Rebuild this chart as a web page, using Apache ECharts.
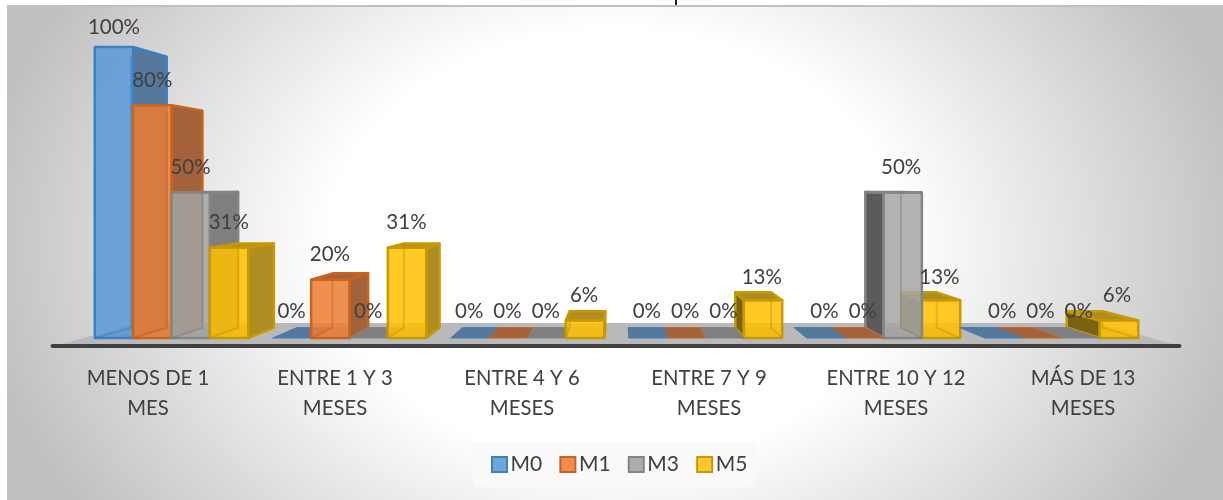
<!DOCTYPE html>
<html>
<head>
<meta charset="utf-8">
<style>
  html, body { margin: 0; padding: 0; width: 1223px; height: 500px; background: #fff; overflow: hidden; }
  #frame {
    position: absolute; left: 7px; top: 5px; width: 1216px; height: 493px;
    border-top: 2px solid #bfbfbf;
    background: radial-gradient(ellipse 640px 480px at 608px 238px, #fff 0%, #fff 45%, #c0c0c0 100%);
  }
  #titleTail { position: absolute; left: 675px; top: 0; width: 2px; height: 5px; background: #222; }
  #chart { position: absolute; left: 0; top: 0; width: 1223px; height: 500px; }
</style>
</head>
<body>
<div id="frame"></div>
<div id="titleTail"></div>
<div id="chart"></div>
<script src="https://cdn.jsdelivr.net/npm/echarts@6/dist/echarts.min.js"></script>
<script>
const categories = ['MENOS DE 1\nMES', 'ENTRE 1 Y 3\nMESES', 'ENTRE 4 Y 6\nMESES', 'ENTRE 7 Y 9\nMESES', 'ENTRE 10 Y 12\nMESES', 'MÁS DE 13\nMESES']
const seriesNames = ['M0', 'M1', 'M3', 'M5']
const m0 = [100, 0, 0, 0, 0, 0]
const m1 = [80, 20, 0, 0, 0, 0]
const m3 = [50, 0, 0, 0, 50, 0]
const m5 = [31, 31, 6, 13, 13, 6]
const seriesValues = [m0, m1, m3, m5]

const frontColors = ['rgba(91,155,213,0.88)', 'rgba(237,125,49,0.85)', 'rgba(165,165,165,0.85)', 'rgba(255,192,0,0.85)']
const borderColors = ['#3a80c2', '#c9641f', '#848484', '#c99a00']
const innerColors = ['rgba(46,117,182,0.4)', 'rgba(197,90,17,0.4)', 'rgba(120,120,120,0.4)', 'rgba(191,144,0,0.4)']
const sideColors = ['#55789c', '#a4623a', '#7f7f7f', '#ad8e22']
const farSideColors = ['#3f6488', '#8a5029', '#5a5a5a', '#7a6212']
const legendFill = ['#6fa6da', '#f08c4f', '#adadad', '#ffc72b']
const labelLift = { 100: 20, 13: 23 } // the rest sit 25px above their bar

const DEPTH = 0.069 // how far a bar goes back toward the vanishing point
const FLOOR_DEPTH = 0.133
const HORIZON = 52 // vanishing point height, in axis units

function vanishing (api, params) {
  return [params.coordSys.x + params.coordSys.width * 0.503, api.coord([0, HORIZON])[1]]
}

function back (p, vp, k) {
  return [p[0] + (vp[0] - p[0]) * k, p[1] + (vp[1] - p[1]) * k]
}

function poly (points, fill, stroke, z2, lineWidth) {
  return {
    type: 'polygon',
    z2: z2,
    shape: { points: points },
    style: { fill: fill, stroke: stroke, lineWidth: lineWidth || 2.5, lineJoin: 'round' }
  }
}

function renderBar (idx) {
  return function (params, api) {
    const cat = api.value(0)
    const val = api.value(1)
    const vp = vanishing(api, params)
    const base = api.coord([cat, 0])
    const top = api.coord([cat, val])
    const barW = api.size([1, 0])[0] / 4.64
    const x0 = base[0] + (idx - 2) * barW
    const x1 = x0 + barW
    const leftType = base[0] < vp[0]
    const z = (leftType ? idx : 3 - idx) * 10 + 10

    const fl = [x0, base[1]]
    const fr = [x1, base[1]]
    const tl = [x0, top[1]]
    const tr = [x1, top[1]]
    const bfl = back(fl, vp, DEPTH)
    const bfr = back(fr, vp, DEPTH)
    const btl = back(tl, vp, DEPTH)
    const btr = back(tr, vp, DEPTH)
    const children = []

    // bar floor, the only thing left of a 0% bar
    children.push(poly([fl, fr, bfr, bfl], val === 0 ? sideColors[idx] : 'rgba(0,0,0,0.12)', val === 0 ? borderColors[idx] : 'none', z, 1))

    if (val > 0) {
      if (x1 < vp[0]) {
        children.push(poly([tr, btr, bfr, fr], sideColors[idx], borderColors[idx], z + 1))
      } else if (x0 > vp[0]) {
        children.push(poly([tl, btl, bfl, fl], farSideColors[idx], borderColors[idx], z + 1))
      }
      if (top[1] > vp[1]) {
        children.push(poly([tl, tr, btr, btl], sideColors[idx], borderColors[idx], z + 2))
      }
      children.push(poly([tl, tr, fr, fl], frontColors[idx], borderColors[idx], z + 3))
      // inner edges seen through the glassy front face
      const inner = x1 < vp[0] ? [btl, bfl, fl] : [btr, bfr, fr]
      children.push({
        type: 'polyline',
        z2: z + 4,
        shape: { points: inner },
        style: { fill: 'none', stroke: innerColors[idx], lineWidth: 2 }
      })
    }

    const lift = labelLift[val] || 25
    const midX = (x0 + x1) / 2
    children.push({
      type: 'text',
      z2: 100,
      style: {
        x: midX - (midX - 114) * 0.002,
        y: (val === 0 ? base[1] - 27 : top[1] - lift),
        text: val + '%',
        fill: '#404040',
        font: '20.5px Lato',
        align: 'center',
        verticalAlign: 'middle'
      }
    })
    return { type: 'group', children: children }
  }
}

function renderFloor (params, api) {
  const vp = vanishing(api, params)
  const cs = params.coordSys
  const y = api.coord([0, 0])[1] + 6
  const a = [cs.x - 20, y]
  const b = [cs.x + cs.width + 22, y]
  return {
    type: 'group',
    children: [
      { type: 'polygon', z2: 1, shape: { points: [a, b, back(b, vp, FLOOR_DEPTH), back(a, vp, FLOOR_DEPTH)] }, style: { fill: '#b9b9b9' } },
      { type: 'line', z2: 2, shape: { x1: cs.x - 30, y1: y + 2, x2: cs.x + cs.width + 29, y2: y + 2 }, style: { stroke: '#404040', lineWidth: 4, lineCap: 'round' } }
    ]
  }
}

const chart = echarts.init(document.getElementById('chart'), null, { renderer: 'canvas' })

const series = seriesNames.map((name, idx) => ({
  name: name,
  type: 'custom',
  z: 3,
  silent: true,
  renderItem: renderBar(idx),
  encode: { x: 0, y: 1 },
  itemStyle: { color: legendFill[idx], borderColor: borderColors[idx], borderWidth: 2 },
  data: seriesValues[idx].map((v, i) => [i, v])
}))

series.unshift({
  name: 'floor',
  type: 'custom',
  z: 1,
  silent: true,
  renderItem: renderFloor,
  encode: { x: 0, y: 1 },
  data: [[0, 0]]
})

chart.setOption({
  backgroundColor: 'transparent',
  animation: false,
  grid: [
    { left: 82.5, width: 1068, top: 47, height: 291 },
    { left: 54.5, width: 1122, top: 338, height: 1 } // labels sit on the wider front edge of the floor
  ],
  xAxis: [
    { type: 'category', gridIndex: 0, data: categories, show: false },
    {
      type: 'category',
      gridIndex: 1,
      data: categories,
      axisLine: { show: false },
      axisTick: { show: false },
      axisLabel: { interval: 0, margin: 25, color: '#404040', fontFamily: 'Lato', fontSize: 20.3, lineHeight: 29.5 }
    }
  ],
  yAxis: [
    { type: 'value', gridIndex: 0, min: 0, max: 100, show: false },
    { type: 'value', gridIndex: 1, show: false }
  ],
  legend: {
    data: seriesNames,
    left: 473,
    top: 442,
    icon: 'rect',
    itemWidth: 15,
    itemHeight: 15,
    itemGap: 17.2,
    padding: [12, 8, 12, 18],
    backgroundColor: '#f9f9f9',
    selectedMode: false,
    textStyle: { color: '#404040', fontFamily: 'Lato', fontSize: 21, padding: [0, 0, 0, -1.5] }
  },
  series: series
})
</script>
</body>
</html>
